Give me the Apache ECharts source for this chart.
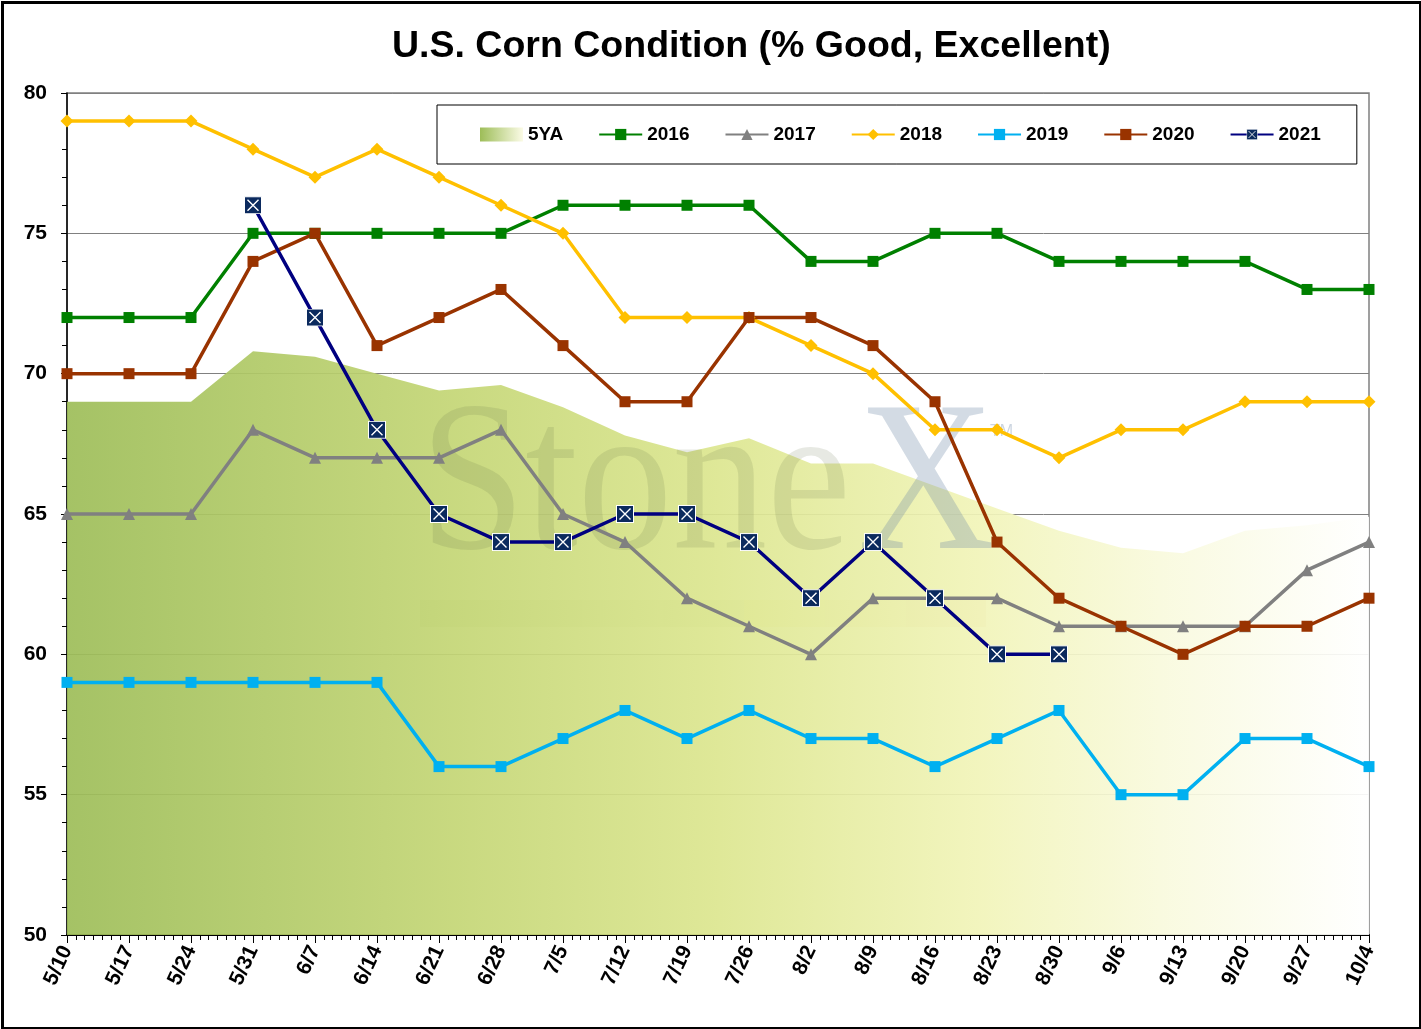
<!DOCTYPE html>
<html>
<head>
<meta charset="utf-8">
<script src="https://cdn.jsdelivr.net/npm/echarts@6/dist/echarts.min.js"></script>
<style>
  html, body { margin: 0; padding: 0; background: #fff; }
  #chart { width: 1421px; height: 1029px; }
</style>
</head>
<body>
<div id="chart"></div>
<script>
const weeks = ['5/10','5/17','5/24','5/31','6/7','6/14','6/21','6/28','7/5','7/12','7/19','7/26','8/2','8/9','8/16','8/23','8/30','9/6','9/13','9/20','9/27','10/4']

const avg5 = [69, 69, 69, 70.8, 70.6, 70.0, 69.4, 69.6, 68.8, 67.8, 67.2, 67.7, 66.8, 66.8, 66.0, 65.2, 64.4, 63.8, 63.6, 64.4, 64.6, 64.9]
const y2016 = [72, 72, 72, 75, 75, 75, 75, 75, 76, 76, 76, 76, 74, 74, 75, 75, 74, 74, 74, 74, 73, 73]
const y2017 = [65, 65, 65, 68, 67, 67, 67, 68, 65, 64, 62, 61, 60, 62, 62, 62, 61, 61, 61, 61, 63, 64]
const y2018 = [79, 79, 79, 78, 77, 78, 77, 76, 75, 72, 72, 72, 71, 70, 68, 68, 67, 68, 68, 69, 69, 69]
const y2019 = [59, 59, 59, 59, 59, 59, 56, 56, 57, 58, 57, 58, 57, 57, 56, 57, 58, 55, 55, 57, 57, 56]
const y2020 = [70, 70, 70, 74, 75, 71, 72, 73, 71, 69, 69, 72, 72, 71, 69, 64, 62, 61, 60, 61, 61, 62]
const y2021 = [null, null, null, 76, 72, 68, 65, 64, 64, 65, 65, 64, 62, 64, 62, 60, 60, null, null, null, null, null]

const yTicks = [50, 55, 60, 65, 70, 75, 80]

const pairs = arr => arr.map((v, i) => [i, v])

const greenFade = new echarts.graphic.LinearGradient(0, 0, 1, 0, [
    {offset: 0, color: '#9dbd58'},
    {offset: 0.3, color: '#c4d675'},
    {offset: 0.5, color: '#dce68f'},
    {offset: 0.7, color: '#f1f4b8'},
    {offset: 0.85, color: '#f9fadf'},
    {offset: 1, color: '#ffffff'}
])

// navy box with a white cross, like the 2021 marker
const boxSvg = "<svg xmlns='http://www.w3.org/2000/svg' width='18' height='18'>" +
    "<rect x='0.5' y='0.5' width='17' height='17' fill='#0b2a5e' stroke='#ffffff' stroke-width='1'/>" +
    "<path d='M3.5 3.5L14.5 14.5M14.5 3.5L3.5 14.5' stroke='#ffffff' stroke-width='1.4'/></svg>"
const boxSymbol = 'image://data:image/svg+xml;charset=utf-8,' + encodeURIComponent(boxSvg)

function lineSeries(name, data, color, symbol, size) {
    return {
        name: name,
        type: 'line',
        data: pairs(data),
        symbol: symbol,
        symbolSize: size,
        z: 3,
        lineStyle: {color: color, width: 3.5},
        itemStyle: {color: color},
        emphasis: {disabled: true}
    }
}

const chart = echarts.init(document.getElementById('chart'))

const option = {
    animation: false,
    backgroundColor: '#ffffff',
    title: {
        text: 'U.S. Corn Condition (% Good, Excellent)',
        left: 387,
        top: 23,
        textStyle: {
            fontFamily: 'Liberation Sans',
            fontWeight: 'bold',
            fontSize: 37.5,
            color: '#000'
        }
    },
    legend: {
        left: 437,
        top: 105,
        padding: [20, 36, 20, 43],
        backgroundColor: '#ffffff',
        borderColor: '#000',
        borderWidth: 1,
        itemWidth: 43,
        itemHeight: 14,
        itemGap: 35,
        textStyle: {
            fontFamily: 'Liberation Sans',
            fontWeight: 'bold',
            fontSize: 19,
            color: '#000'
        },
        data: [
            {name: '5YA', icon: 'rect', itemStyle: {color: new echarts.graphic.LinearGradient(0, 0, 1, 0, [
                {offset: 0, color: '#9dbd58'}, {offset: 1, color: '#fbfbe6'}])}},
            '2016', '2017', '2018', '2019', '2020', '2021'
        ]
    },
    grid: {
        left: 67,
        right: 52,
        top: 93,
        bottom: 94,
        show: true,
        borderColor: '#808080',
        borderWidth: 1.5
    },
    xAxis: {
        type: 'value',
        min: 0,
        max: weeks.length - 1,
        interval: 1,
        axisLine: {show: true, lineStyle: {color: '#000', width: 2}},
        axisTick: {show: true, length: 8, lineStyle: {color: '#000', width: 1}},
        minorTick: {show: true, splitNumber: 7, length: 5, lineStyle: {color: '#000', width: 1}},
        splitLine: {show: false},
        axisLabel: {
            rotate: 65,
            margin: 12,
            fontFamily: 'Liberation Sans',
            fontWeight: 'bold',
            fontSize: 21,
            color: '#000',
            formatter: v => weeks[v] || ''
        }
    },
    yAxis: {
        type: 'value',
        min: yTicks[0],
        max: yTicks[yTicks.length - 1],
        interval: 5,
        axisLine: {show: true, lineStyle: {color: '#000', width: 1.5}},
        axisTick: {show: true, length: 6, lineStyle: {color: '#000'}},
        minorTick: {show: true, splitNumber: 5, length: 5, lineStyle: {color: '#000'}},
        splitLine: {show: true, lineStyle: {color: '#808080', width: 1}},
        axisLabel: {
            margin: 20,
            fontFamily: 'Liberation Sans',
            fontWeight: 'bold',
            fontSize: 21,
            color: '#000'
        }
    },
    graphic: [
        {type: 'rect', left: 0, top: 0, z: 100, silent: true,
            shape: {x: 1.5, y: 1.5, width: 1418, height: 1026},
            style: {fill: 'none', stroke: '#000', lineWidth: 3}},
        // StoneX watermark
        {type: 'text', x: 420, y: 492, scaleX: 0.88, z: 2, silent: true,
            style: {text: 'Stone', font: '215px "Liberation Serif"', fill: 'rgba(95,110,70,0.15)', verticalAlign: 'middle'}},
        {type: 'text', x: 858, y: 492, scaleX: 0.88, z: 2, silent: true,
            style: {text: 'X', font: '215px "Liberation Serif"', fill: 'rgba(110,135,165,0.3)', verticalAlign: 'middle'}},
        {type: 'text', x: 990, y: 432, z: 2, silent: true,
            style: {text: 'TM', font: '16px "Liberation Sans"', fill: 'rgba(110,135,165,0.35)', verticalAlign: 'middle'}},
        {type: 'group', z: 2, silent: true, children: [
            {type: 'rect', shape: {x: 420, y: 600, width: 81, height: 27}, style: {fill: 'rgba(120,150,70,0.22)'}},
            {type: 'rect', shape: {x: 501, y: 600, width: 81, height: 27}, style: {fill: 'rgba(120,150,70,0.2)'}},
            {type: 'rect', shape: {x: 582, y: 600, width: 81, height: 27}, style: {fill: 'rgba(190,205,160,0.35)'}},
            {type: 'rect', shape: {x: 663, y: 600, width: 81, height: 27}, style: {fill: 'rgba(120,150,70,0.2)'}},
            {type: 'rect', shape: {x: 744, y: 600, width: 81, height: 27}, style: {fill: 'rgba(235,220,90,0.35)'}},
            {type: 'rect', shape: {x: 825, y: 600, width: 81, height: 27}, style: {fill: 'rgba(230,195,105,0.35)'}},
            {type: 'rect', shape: {x: 906, y: 600, width: 80, height: 27}, style: {fill: 'rgba(220,165,115,0.42)'}}
        ]}
    ],
    series: [
        {
            name: '5YA',
            type: 'line',
            data: pairs(avg5),
            symbol: 'none',
            z: 1,
            lineStyle: {width: 0, opacity: 0},
            itemStyle: {color: greenFade},
            areaStyle: {color: greenFade, opacity: 0.92},
            emphasis: {disabled: true}
        },
        lineSeries('2016', y2016, '#008000', 'rect', 11),
        lineSeries('2017', y2017, '#808080', 'triangle', 12),
        lineSeries('2018', y2018, '#ffc000', 'diamond', 13),
        lineSeries('2019', y2019, '#00b0f0', 'rect', 11),
        lineSeries('2020', y2020, '#993300', 'rect', 11),
        lineSeries('2021', y2021, '#000080', boxSymbol, 18)
    ]
}

chart.setOption(option)
</script>
</body>
</html>
